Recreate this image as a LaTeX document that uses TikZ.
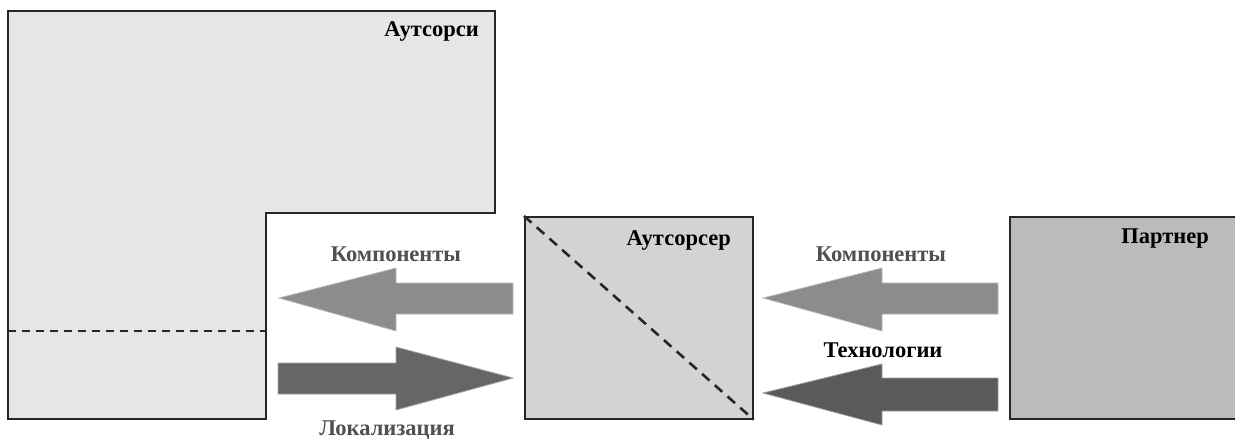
\documentclass[tikz,border=0pt]{standalone}
\usepackage{fontspec}
\setmainfont{Liberation Serif}
\definecolor{bigfill}{HTML}{E6E6E6}
\definecolor{midfill}{HTML}{D3D3D3}
\definecolor{partfill}{HTML}{BBBBBB}
\definecolor{arrlight}{HTML}{8C8C8C}
\definecolor{arrdark}{HTML}{666666}
\definecolor{arrdarker}{HTML}{5A5A5A}
\definecolor{labgray}{HTML}{505050}
\tikzset{
  boxline/.style={draw=black!85, line width=1.6pt},
  dashline/.style={draw=black!85, line width=1.8pt, dash pattern=on 8pt off 6pt},
  lab/.style={font=\bfseries\fontsize{22.5}{25}\selectfont, inner sep=0pt},
  arr/.style={draw=#1!60, line width=0.8pt, fill=#1},
}
\begin{document}
\begin{tikzpicture}[x=1pt,y=-1pt]
\useasboundingbox[fill=white] (0,0) rectangle (1235,440);
% big L-shaped block
\path[boxline, fill=bigfill] (8,11) -- (495,11) -- (495,213) -- (266,213) -- (266,419) -- (8,419) -- cycle;
\draw[dashline] (8,331) -- (266,331);
\node[lab, anchor=north east] (t1) at (479,21) {Аутсорси};
% outsourcer box
\node[boxline, fill=midfill, minimum width=228pt, minimum height=202pt, inner sep=0pt, anchor=north west] (out) at (524,216) {};
\draw[dashline, line width=2.6pt, dash pattern=on 10pt off 7pt] (out.north west) -- (out.south east);
\node[lab, anchor=north east] (t2) at (731,230) {Аутсорсер};
% partner box
\node[boxline, fill=partfill, minimum width=232pt, minimum height=202pt, inner sep=0pt, anchor=north west] (par) at (1009,216) {};
\node[lab, anchor=north east] (t3) at (1209,229) {Партнер};
% arrows left
\path[arr=arrlight] (513,283) -- (396,283) -- (396,268) -- (279,298) -- (396,331) -- (396,314) -- (513,314) -- cycle;
\path[arr=arrdark] (278,363) -- (396,363) -- (396,347) -- (513,378) -- (396,410) -- (396,394) -- (278,394) -- cycle;
% arrows right
\path[arr=arrlight] (998,283) -- (882,283) -- (882,268) -- (763,298) -- (882,331) -- (882,314) -- (998,314) -- cycle;
\path[arr=arrdarker] (998,378) -- (882,378) -- (882,364) -- (763,393) -- (882,425) -- (882,411) -- (998,411) -- cycle;
% labels
\node[lab, text=labgray] (k1) at (396,254) {Компоненты};
\node[lab, text=labgray] (l1) at (387,430) {Локализация};
\node[lab, text=labgray] (k2) at (881,254) {Компоненты};
\node[lab] (te) at (883,350) {Технологии};
\end{tikzpicture}
\end{document}
